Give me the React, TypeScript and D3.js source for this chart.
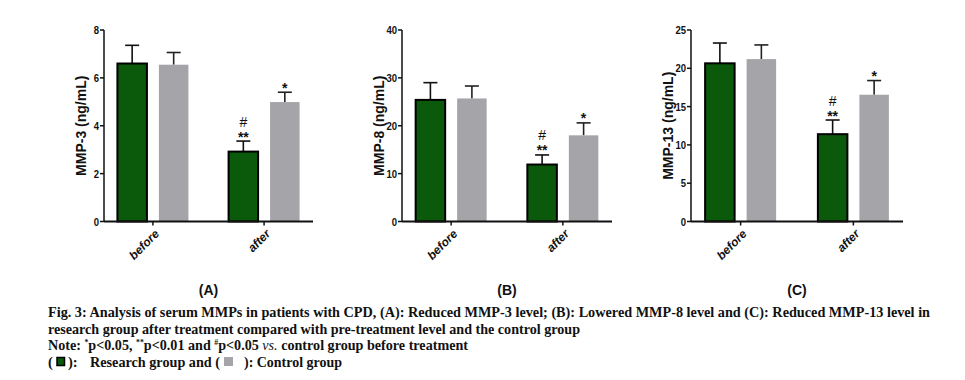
import React from "react";
import * as d3 from "d3";

const groups = ["before", "after"];
const seriesKeys = ["research", "control"];

const panelLabels = ["(A)", "(B)", "(C)"];
const yTitles = ["MMP-3 (ng/mL)", "MMP-8 (ng/mL)", "MMP-13 (ng/mL)"];
const yMax = [8, 40, 25];
const yTicks = [
  [0, 2, 4, 6, 8],
  [0, 10, 20, 30, 40],
  [0, 5, 10, 15, 20, 25],
];

// values [before, after]
const researchMean = [
  [6.6, 2.92],
  [25.4, 11.9],
  [20.65, 11.4],
];
const researchErr = [
  [7.36, 3.36],
  [29.0, 13.9],
  [23.3, 13.25],
];
const controlMean = [
  [6.55, 4.99],
  [25.7, 18.0],
  [21.2, 16.55],
];
const controlErr = [
  [7.06, 5.4],
  [28.3, 20.6],
  [23.05, 18.4],
];

const captionLines = [
  "Fig. 3: Analysis of serum MMPs in patients with CPD, (A): Reduced MMP-3 level; (B): Lowered MMP-8 level and (C): Reduced MMP-13 level in",
  "research group after treatment compared with pre-treatment level and the control group",
];

const GREEN = "#0b5a0b";
const GRAY = "#a5a5a9";
const SANS = "Liberation Sans, Arial, sans-serif";
const SERIF = "Liberation Serif, Times New Roman, serif";

const panelX = [
  [104, 313],
  [402, 612],
  [691, 903],
];
const top = 30;
const bottom = 221.5;

function Panel({ i }: { i: number }) {
  const [x0, x1] = panelX[i];
  const y = d3.scaleLinear().domain([0, yMax[i]]).range([bottom, top]);
  const x = d3.scalePoint<string>().domain(groups).range([x0, x1]).padding(0.44);
  const sub = d3.scaleBand<string>().domain(seriesKeys).range([-35.5, 35.5]).paddingInner(0.289);
  const bw = sub.bandwidth();
  const labelX = (x0 + x1) / 2;

  return (
    <g>
      {groups.map((g, gi) => {
        const cx = x(g)!;
        const rx = cx + sub("research")!;
        const gx = cx + sub("control")!;
        const rTop = y(researchMean[i][gi]);
        const cTop = y(controlMean[i][gi]);
        const rE = y(researchErr[i][gi]);
        const cE = y(controlErr[i][gi]);
        return (
          <g key={g}>
            <line x1={rx + bw / 2} x2={rx + bw / 2} y1={rTop} y2={rE} stroke="#111" strokeWidth={1.6} />
            <line x1={rx + bw / 2 - 7} x2={rx + bw / 2 + 7} y1={rE} y2={rE} stroke="#111" strokeWidth={1.6} />
            <line x1={gx + bw / 2} x2={gx + bw / 2} y1={cTop} y2={cE} stroke="#222" strokeWidth={1.6} />
            <line x1={gx + bw / 2 - 7} x2={gx + bw / 2 + 7} y1={cE} y2={cE} stroke="#222" strokeWidth={1.6} />
            <rect x={rx} y={rTop} width={bw} height={bottom - rTop} fill={GREEN} stroke="#000" strokeWidth={2} />
            <rect x={gx} y={cTop} width={bw} height={bottom - cTop} fill={GRAY} />
            {gi === 1 && (
              <g>
                <text x={rx + bw / 2} y={rE + 0.5} textAnchor="middle" fontFamily={SANS} fontWeight="bold" fontSize={14} fill="#111">**</text>
                <text x={rx + bw / 2} y={rE - 14.5} textAnchor="middle" fontFamily={SANS} fontSize={14} fill="#111">#</text>
                <text x={gx + bw / 2} y={cE + 0.5} textAnchor="middle" fontFamily={SANS} fontWeight="bold" fontSize={14} fill="#111">*</text>
              </g>
            )}
          </g>
        );
      })}
      <line x1={x0} x2={x0} y1={top} y2={bottom} stroke="#111" strokeWidth={1.5} />
      <line x1={x0} x2={x1} y1={bottom} y2={bottom} stroke="#111" strokeWidth={1.8} />
      {yTicks[i].map((t) => (
        <g key={t}>
          <line x1={x0 - 4} x2={x0} y1={y(t)} y2={y(t)} stroke="#111" strokeWidth={1.5} />
          <text
            x={x0 - 5}
            y={y(t)}
            dy="0.36em"
            textAnchor="end"
            fontFamily={SANS}
            fontWeight="bold"
            fontSize={11.5}
            fill="#111"
            textLength={String(t).length * 5.3}
            lengthAdjust="spacingAndGlyphs"
          >
            {t}
          </text>
        </g>
      ))}
      {groups.map((g) => (
        <g key={g}>
          <line x1={x(g)!} x2={x(g)!} y1={bottom} y2={bottom + 4} stroke="#111" strokeWidth={1.5} />
          <text
            transform={`translate(${x(g)! + 4},${bottom + 10}) rotate(-45)`}
            textAnchor="end"
            dy="0.35em"
            fontFamily={SANS}
            fontWeight="bold"
            fontStyle="italic"
            fontSize={12}
            fill="#111"
          >
            {g}
          </text>
        </g>
      ))}
      <text
        transform={`translate(${x0 - 18},${(top + bottom) / 2}) rotate(-90)`}
        textAnchor="middle"
        fontFamily={SANS}
        fontWeight="bold"
        fontSize={14}
        fill="#111"
      >
        {yTitles[i]}
      </text>
      <text x={labelX} y={295} textAnchor="middle" fontFamily={SANS} fontWeight="bold" fontSize={14} fill="#111">
        {panelLabels[i]}
      </text>
    </g>
  );
}

export default function App() {
  return (
    <svg width={965} height={380} style={{ position: "absolute", left: 0, top: 0, background: "#fff" }}>
      <rect width={965} height={380} fill="#fff" />
      {[0, 1, 2].map((i) => (
        <Panel key={i} i={i} />
      ))}
      <g fontFamily={SERIF} fontWeight="bold" fontSize={14.5} fill="#111">
        <text x={48} y={317} textLength={882} lengthAdjust="spacingAndGlyphs">
          {captionLines[0]}
        </text>
        <text x={48} y={333.5} textLength={532} lengthAdjust="spacingAndGlyphs">
          {captionLines[1]}
        </text>
        <text x={48} y={350} textLength={420} lengthAdjust="spacingAndGlyphs">
          <tspan>Note: </tspan>
          <tspan fontSize={8} dy={-5}>*</tspan>
          <tspan dy={5}>p&lt;0.05, </tspan>
          <tspan fontSize={8} dy={-5}>**</tspan>
          <tspan dy={5}>p&lt;0.01 and </tspan>
          <tspan fontSize={8} dy={-5}>#</tspan>
          <tspan dy={5}>p&lt;0.05 </tspan>
          <tspan fontStyle="italic" fontWeight="normal">vs.</tspan>
          <tspan> control group before treatment</tspan>
        </text>
        <text x={48} y={367}>(</text>
        <rect x={57} y={357.5} width={7.5} height={8} fill={GREEN} stroke="#000" strokeWidth={1.5} />
        <text x={68} y={367}>):</text>
        <text x={90} y={367} textLength={130} lengthAdjust="spacingAndGlyphs">Research group and (</text>
        <rect x={224} y={357} width={9} height={9} fill={GRAY} />
        <text x={244} y={367} textLength={98} lengthAdjust="spacingAndGlyphs">): Control group</text>
      </g>
    </svg>
  );
}
